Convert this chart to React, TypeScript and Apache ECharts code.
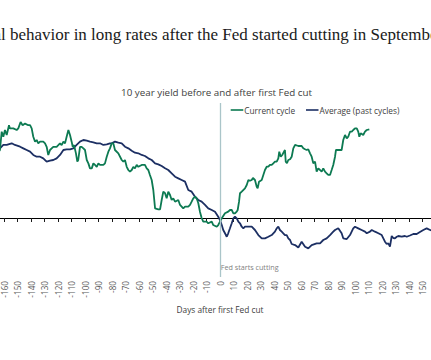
import React, { useEffect, useRef } from "react";
import * as echarts from "echarts";

// Days relative to the first Fed cut, and change in the 10y yield (bp, relative scale)
const currentDays = [
  -165, -163, -161.7, -160.5, -159.3, -158, -156.3, -155.6, -153.1, -150.6, -149.4, -147.7, -146.2, -144.4, -142, -140.7,
  -139.5, -138.3, -137, -135.8, -134.6, -133.3, -130.9, -129.6, -128.4, -127.2, -125.9, -124.7, -123.5, -121, -119.8,
  -118.5, -117.3, -116, -114.8, -113.6, -112.3, -111.1, -109.9, -109.1, -108.1, -106.7, -105.7, -105, -103.7, -102.5,
  -101.2, -100, -98.7, -97.5, -96.3, -95, -93.8, -92.6, -91.3, -90.1, -88.9, -86.4, -85.2, -83.9, -82.7, -81.5, -80.2,
  -79, -77.8, -75.3, -72.8, -71.6, -70.4, -69.1, -67.9, -66.7, -65.4, -64.2, -63, -61.7, -60.5, -58, -55.6, -54.3,
  -53.1, -51.9, -50.6, -49.4, -48.1, -45.7, -44.4, -43.2, -42, -40.7, -39.5, -38.3, -37, -35.8, -34.6, -33.3, -30.9,
  -29.6, -28.4, -27.2, -25.9, -23.5, -22.2, -21, -19.8, -18.5, -17.3, -16.1, -14.8, -13.6, -12.4, -9.9, -8.7, -6.1,
  -5, -2.4, -1.3, 0, 1.3, 3.7, 6.1, 7.4, 8.7, 9.9, 11.1, 12.4, 13.1, 14.1, 14.8, 16.1, 18.5, 19.8, 21, 22.2, 23.5,
  24.4, 25.9, 27.2, 27.9, 28.9, 30.9, 32.1, 33.3, 34.6, 35.8, 37, 38.3, 39.5, 40.7, 42, 43.2, 43.9, 45, 46.1, 47.4,
  48.1, 48.7, 49.6, 50.6, 51.9, 53.1, 54.3, 55.6, 58, 60.5, 61.7, 63, 64.2, 65.4, 66.7, 67.9, 69.1, 70.4, 71.6, 72.8,
  74.1, 75.3, 76.5, 77.8, 79, 80.2, 81.5, 82.7, 83.9, 85.2, 85.9, 87.6, 90.1, 91.3, 92.6, 93.9, 95, 96.3, 97.6, 98.7,
  100, 101.3, 102.4, 103.2, 104.2, 106.1, 107.4, 108.7, 110.6,
];
const currentYield = [
  80, 85, 107.9, 101.6, 110, 103.8, 116, 112, 112, 110, 112, 120, 116, 118, 116, 116,
  112, 101.6, 95.4, 97.5, 93.3, 95.4, 95.4, 93.3, 89, 78.8, 85, 87, 89, 89, 91,
  93.3, 91, 95.4, 93.3, 101.6, 110, 103.8, 95.4, 89, 91, 80.8, 70.4, 72.5, 89, 89,
  87, 85, 72.5, 68.3, 62, 62, 68.3, 66.3, 64, 68.3, 66.3, 66.3, 68.3, 76.6, 82.9, 87, 93.3,
  93.3, 85, 80.8, 72.5, 70.4, 72.5, 64, 60, 57.9, 60, 64, 62, 66.3, 64, 66.3, 66.3, 62,
  60, 53.8, 47.5, 35, 12, 10.8, 10.8, 22.5, 33, 31, 24.6, 33, 28.8, 22.5, 24.6, 20.4, 22.5,
  16.3, 14.2, 12, 14.2, 14.2, 16.3, 20.4, 24.6, 26.6, 24.6, 18.8, 7.5, 0, -4.6, -4.6, -6.6, -4.6,
  -8.8, -10.9, -8.8, -4.6, -0.4, 5.9, 7.9, 10, 10, 5.9, 5.9, 7.9, 10, 20.4, 30.9, 32.9, 37.1, 41.3, 47.5, 46.6, 47.5,
  50, 47.5, 39.1, 37.1, 45.4, 47.5, 53.8, 60, 64.1, 64.1, 66.3, 66.3, 68.4, 70.4, 70.4, 74.6, 82.9, 76.6, 78.8, 82.9,
  85, 70.4, 68.4, 72.5, 73.4, 76.6, 87.1, 91.3, 90, 90, 87.1, 85.9, 85, 85.9, 80.9, 76.6, 68.4, 70.4, 57.9, 62.1,
  60, 57.9, 62.1, 57.9, 55.9, 53.8, 53.8, 60, 66.3, 76.6, 85, 85, 85, 97.5, 103.8, 99.6, 101.6, 107.9, 107.9, 110,
  112.1, 112.1, 107.9, 101.6, 105.9, 103.8, 107.9, 110, 110.9,
];

const averageDays = [
  -165, -163, -160.5, -158, -154.3, -151.9, -148.1, -145.7, -143.2, -140.7, -138.3, -135.8, -133.3, -130.9, -128.4,
  -125.9, -123.5, -121, -118.5, -116, -113.6, -111.1, -108.7, -106.2, -103.7, -101.2, -98.7, -96.3, -93.8, -91.3,
  -88.9, -86.4, -83.9, -81.5, -80.2, -77.8, -75.3, -72.8, -70.4, -67.9, -65.4, -63, -60.5, -58, -55.6, -53.1, -50.6,
  -48.1, -45.7, -43.2, -40.7, -38.3, -35.8, -33.3, -30.9, -28.4, -25.9, -23.5, -21, -18.5, -16.1, -13.6, -11.1, -8.7,
  -6.1, -3.7, -1.3, 0, 1.3, 2.4, 3.7, 5, 6.1, 7.4, 8.7, 9.9, 11.1, 12.4, 13.6, 14.8, 16.1, 17.3, 18.5, 21, 23.5, 25.9,
  28.4, 30.9, 33.3, 35.8, 38.3, 40.7, 42, 43.2, 44.4, 45.7, 46.9, 48.1, 49.4, 50.6, 51.9, 53.1, 55.6, 58, 60.5, 63,
  65.4, 67.9, 71.6, 74.1, 76.5, 79, 81.5, 83.9, 85.2, 87.6, 90.1, 91.3, 93.9, 96.3, 98.7, 100, 102.4, 104.9, 107.4,
  108.7, 111.1, 112.4, 114.8, 117.3, 119.8, 122.2, 123.5, 124.7, 125.9, 127.2, 128.4, 129.6, 130.9, 132.1, 134.6, 137,
  138.3, 140.7, 143.2, 145.7, 148.1, 150.6, 153.1, 155.6, 160,
];
const averageYield = [
  86, 87.1, 91.3, 91.3, 93.4, 91.3, 89.1, 87.1, 85, 82.9, 78.8, 76.6, 76.6, 74.6, 70.4,
  71.6, 72.5, 74.6, 78.8, 85, 85.9, 85.9, 87.1, 91.3, 95.4, 97.5, 96.6, 95.4, 94.6, 93.4,
  93.4, 91.3, 92.1, 93.4, 93.4, 95.4, 94.1, 93.4, 89.1, 87.1, 84.1, 81.6, 80.9, 78.8, 77.5, 74.6, 72.5,
  68.4, 67.1, 65, 62.1, 60, 55.9, 51.6, 49.6, 47.5, 45.4, 35, 32.9, 26.6, 22.5, 20.4, 16.3, 12.1,
  10, 7.9, 1.6, -2.5, -8.8, -15, -19.1, -23.4, -19.1, -12.9, -6.6, -0.4, 1.6, -0.4, -4.6, -6.6, -10.9, -12.9, -10.9, -10.9, -10.9, -15,
  -21.3, -25.4, -25.4, -23.4, -21.3, -17.1, -12.9, -10.9, -15, -17.1, -19.1, -21.3, -21.3, -25.4, -27.5, -32.5, -33.8, -36.9, -29.6, -35.9,
  -37.9, -33.8, -31.6, -31.6, -27.5, -25.4, -21.3, -17.1, -15, -12.9, -19.1, -25.4, -26.3, -21.3, -12.9, -10.9, -12.9, -15, -17.1,
  -19.1, -17.1, -15, -17.1, -19.1, -21.3, -29.6, -32.5, -31.6, -35.9, -22.5, -25, -25.4, -23.4, -22.5, -23.4, -22.5,
  -23.4, -21.9, -20, -20, -17.5, -15, -12.9, -15, -17,
];

const xMin = -180;
const xMax = 180;
const xStep = 10;
const labelMin = -160;
const labelMax = 150;
const yMin = -73.75;
const yMax = 143.75;

const GREEN = "#0d7a52";
const NAVY = "#1c2f63";
const OFF = 40; // chart canvas is shifted left by this many px (the picture is cropped)

export default function App() {
  const ref = useRef<HTMLDivElement>(null);
  useEffect(() => {
    const chart = echarts.init(ref.current!, null, { renderer: "svg" });
    const sans = "'Open Sans', 'Noto Sans', sans-serif";
    chart.setOption({
      animation: false,
      backgroundColor: "#ffffff",
      grid: { left: 17, right: 17, top: 103, bottom: 83, containLabel: false },
      xAxis: [
        {
          type: "value",
          min: xMin,
          max: xMax,
          interval: xStep,
          position: "bottom",
          axisLine: { show: true, onZero: true, lineStyle: { color: "#000000", width: 1 } },
          axisTick: { show: true, length: 4, lineStyle: { color: "#1a1a1a", width: 1 } },
          axisLabel: { show: false },
          splitLine: { show: false },
        },
        {
          type: "value",
          min: xMin,
          max: xMax,
          interval: xStep,
          position: "bottom",
          axisLine: { show: false, onZero: false },
          axisTick: { show: false },
          axisLabel: {
            show: true,
            rotate: 90,
            margin: 4,
            fontSize: 8.2,
            color: "#595959",
            fontFamily: sans,
            formatter: (v: number) => (v < labelMin || v > labelMax ? "" : String(v)),
          },
          splitLine: { show: false },
        },
      ],
      yAxis: {
        type: "value",
        min: yMin,
        max: yMax,
        axisLine: { show: false },
        axisTick: { show: false },
        axisLabel: { show: false },
        splitLine: { show: false },
      },
      series: [
        {
          name: "cut",
          type: "line",
          xAxisIndex: 0,
          data: [],
          z: 1,
          markLine: {
            silent: true,
            symbol: "none",
            label: { show: false },
            lineStyle: { color: "#aac5c9", width: 1.3, type: "solid" },
            data: [{ xAxis: 0 }],
          },
        },
        {
          name: "Average (past cycles)",
          type: "line",
          xAxisIndex: 0,
          data: averageDays.map((d, i) => [d, averageYield[i]]),
          showSymbol: false,
          symbol: "none",
          lineStyle: { color: NAVY, width: 1.8 },
          itemStyle: { color: NAVY },
          z: 2,
        },
        {
          name: "Current cycle",
          type: "line",
          xAxisIndex: 0,
          data: currentDays.map((d, i) => [d, currentYield[i]]),
          showSymbol: false,
          symbol: "none",
          lineStyle: { color: GREEN, width: 1.8 },
          itemStyle: { color: GREEN },
          z: 3,
        },
      ],
      graphic: [
        {
          type: "text",
          x: -51 + OFF,
          y: 34,
          style: {
            text: "Unusual behavior in long rates after the Fed started cutting in September",
            fontSize: 17,
            fontFamily: "'Liberation Serif', serif",
            fill: "#1a1a1a",
            align: "left",
            verticalAlign: "middle",
          },
        },
        {
          type: "text",
          x: 216.5 + OFF,
          y: 92,
          style: {
            text: "10 year yield before and after first Fed cut",
            fontSize: 9.8,
            fontFamily: sans,
            fill: "#404040",
            align: "center",
            verticalAlign: "middle",
          },
        },
        {
          type: "line",
          shape: { x1: 230.7 + OFF, y1: 110, x2: 243.3 + OFF, y2: 110 },
          style: { stroke: GREEN, lineWidth: 1.6 },
        },
        {
          type: "text",
          x: 244.3 + OFF,
          y: 110,
          style: { text: "Current cycle", fontSize: 8.3, fontFamily: sans, fill: "#404040", align: "left", verticalAlign: "middle" },
        },
        {
          type: "line",
          shape: { x1: 306 + OFF, y1: 110, x2: 318.5 + OFF, y2: 110 },
          style: { stroke: NAVY, lineWidth: 1.6 },
        },
        {
          type: "text",
          x: 319.5 + OFF,
          y: 110,
          style: { text: "Average (past cycles)", fontSize: 8.3, fontFamily: sans, fill: "#404040", align: "left", verticalAlign: "middle" },
        },
        {
          type: "text",
          x: 220.7 + OFF,
          y: 267.3,
          style: { text: "Fed starts cutting", fontSize: 7.2, fontFamily: sans, fill: "#7f7f7f", align: "left", verticalAlign: "middle" },
        },
        {
          type: "text",
          x: 220 + OFF,
          y: 309,
          style: { text: "Days after first Fed cut", fontSize: 8.3, fontFamily: sans, fill: "#404040", align: "center", verticalAlign: "middle" },
        },
      ],
    });
    return () => chart.dispose();
  }, []);
  return (
    <div style={{ position: "fixed", left: 0, top: 0, width: 431, height: 360, overflow: "hidden", background: "#ffffff" }}>
      <div ref={ref} style={{ position: "absolute", left: -OFF, top: 0, width: 520, height: 360 }} />
    </div>
  );
}
